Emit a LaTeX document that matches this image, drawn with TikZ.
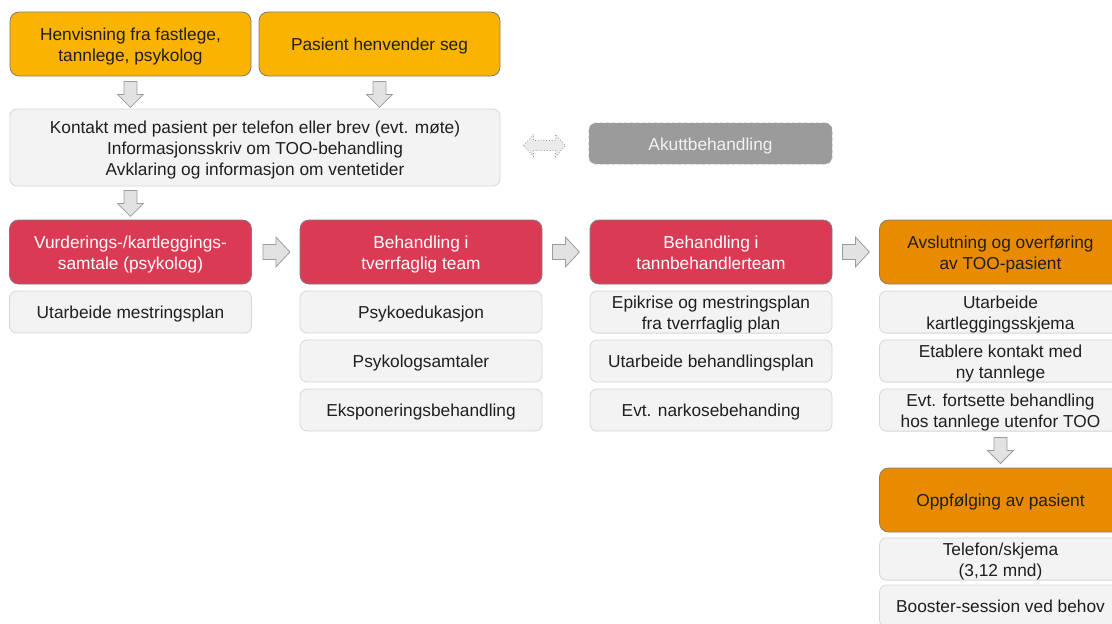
\documentclass[tikz,border=0pt]{standalone}
\usepackage{fontspec}
\setmainfont{Liberation Sans}
\usetikzlibrary{calc}
\definecolor{hdr}{HTML}{F9B300}
\definecolor{redc}{HTML}{DB3A55}
\definecolor{orgc}{HTML}{E88B00}
\definecolor{subf}{HTML}{F3F3F3}
\definecolor{subd}{HTML}{D6D6D6}
\definecolor{arrf}{HTML}{E2E2E2}
\definecolor{arrd}{HTML}{9C9C9C}
\definecolor{edge}{HTML}{7E7E7E}
\definecolor{akf}{HTML}{9B9B9B}
\tikzset{
  base/.style={rounded corners=9pt, align=center, inner sep=0pt,
    font=\fontsize{17.3}{20.8}\selectfont, text=black!88,
    execute at begin node={\rule{0pt}{17.4pt}},
    execute at end node={\rule[-4pt]{0pt}{4pt}}},
  ltwo/.style={execute at begin node={\rule{0pt}{38.2pt}}},
  lthree/.style={execute at begin node={\rule{0pt}{59pt}}},
  hdrbox/.style={base, fill=hdr, draw=edge, line width=0.8pt, minimum width=241pt, minimum height=64pt},
  redbox/.style={base, fill=redc, draw=edge, line width=0.8pt, text=white, minimum width=242pt, minimum height=64pt},
  orgbox/.style={base, fill=orgc, draw=edge, line width=0.8pt, minimum width=242pt, minimum height=64pt},
  subbox/.style={base, rounded corners=7pt, fill=subf, draw=subd, line width=0.8pt, minimum width=242pt, minimum height=42pt},
  akbox/.style={base, rounded corners=7pt, fill=akf, draw=black!35, dashed, line width=0.8pt, text=white!95!black, minimum width=243pt, minimum height=41pt},
  arrstyle/.style={fill=arrf, draw=arrd, line width=0.8pt, line join=miter},
  pics/darr/.style={code={\draw[arrstyle] (-6.5,0) -- (-6.5,13) -- (-13,13) -- (0,26) -- (13,13) -- (6.5,13) -- (6.5,0) -- cycle;}},
  pics/rarr/.style={code={\draw[arrstyle] (0,-7.5) -- (13,-7.5) -- (13,-15) -- (27,0) -- (13,15) -- (13,7.5) -- (0,7.5) -- cycle;}},
  pics/dblarr/.style={code={\draw[fill=arrf!70!white, draw=black!40, dotted, line width=0.8pt] (0,0) -- (10,-11) -- (10,-5) -- (32,-5) -- (32,-11) -- (42,0) -- (32,11) -- (32,5) -- (10,5) -- (10,11) -- cycle;}}
}
\begin{document}
\begin{tikzpicture}[x=1pt,y=-1pt]
\path[use as bounding box] (0,0) rectangle (1112,624);
\clip (0,0) rectangle (1112,624);

% top
\node[hdrbox, ltwo] (h1) at (130.5,44) {Henvisning fra fastlege,\\tannlege, psykolog};
\node[hdrbox] (h2) at (379.5,44) {Pasient henvender seg};
\node[subbox, lthree, minimum width=490pt, minimum height=77pt] (k) at (255,147.5)
  {Kontakt med pasient per telefon eller brev (evt. møte)\\Informasjonsskriv om TOO-behandling\\Avklaring og informasjon om ventetider};
\node[akbox] (ak) at (710.5,143.5) {Akuttbehandling};

\pic at ($(h1.south)+(0,5)$) {darr};
\pic at ($(h2.south)+(0,5)$) {darr};
\pic at ($(k.east)!0.5!(ak.west)+(-21,0)$) {dblarr};

% main row
\node[redbox, ltwo] (r1) at (130.5,252) {Vurderings-/kartleggings-\\samtale (psykolog)};
\node[redbox, ltwo] (r2) at (421,252) {Behandling i\\tverrfaglig team};
\node[redbox, ltwo] (r3) at (711,252) {Behandling i\\tannbehandlerteam};
\node[orgbox, ltwo] (r4) at (1000.5,252) {Avslutning og overføring\\av TOO-pasient};

\pic at ($(k.south)+(-124.5,4)$) {darr};
\pic at ($(r1.east)+(11,0)$) {rarr};
\pic at ($(r2.east)+(10,0)$) {rarr};
\pic at ($(r3.east)+(10,0)$) {rarr};

% sub boxes
\node[subbox] (s11) at (130.5,312) {Utarbeide mestringsplan};

\node[subbox] (s21) at (421,312) {Psykoedukasjon};
\node[subbox] (s22) at (421,361) {Psykologsamtaler};
\node[subbox] (s23) at (421,410) {Eksponeringsbehandling};

\node[subbox, ltwo] (s31) at (711,312) {Epikrise og mestringsplan\\fra tverrfaglig plan};
\node[subbox] (s32) at (711,361) {Utarbeide behandlingsplan};
\node[subbox] (s33) at (711,410) {Evt. narkosebehanding};

\node[subbox, ltwo] (s41) at (1000.5,312) {Utarbeide\\kartleggingsskjema};
\node[subbox, ltwo] (s42) at (1000.5,361) {Etablere kontakt med\\ny tannlege};
\node[subbox, ltwo] (s43) at (1000.5,410) {Evt. fortsette behandling\\hos tannlege utenfor TOO};

\pic at ($(s43.south)+(0,6)$) {darr};

\node[orgbox] (o) at (1000.5,500) {Oppfølging av pasient};
\node[subbox, ltwo] (t1) at (1000.5,559) {Telefon/skjema\\(3,12 mnd)};
\node[subbox] (t2) at (1000.5,606) {Booster-session ved behov};
\end{tikzpicture}
\end{document}
